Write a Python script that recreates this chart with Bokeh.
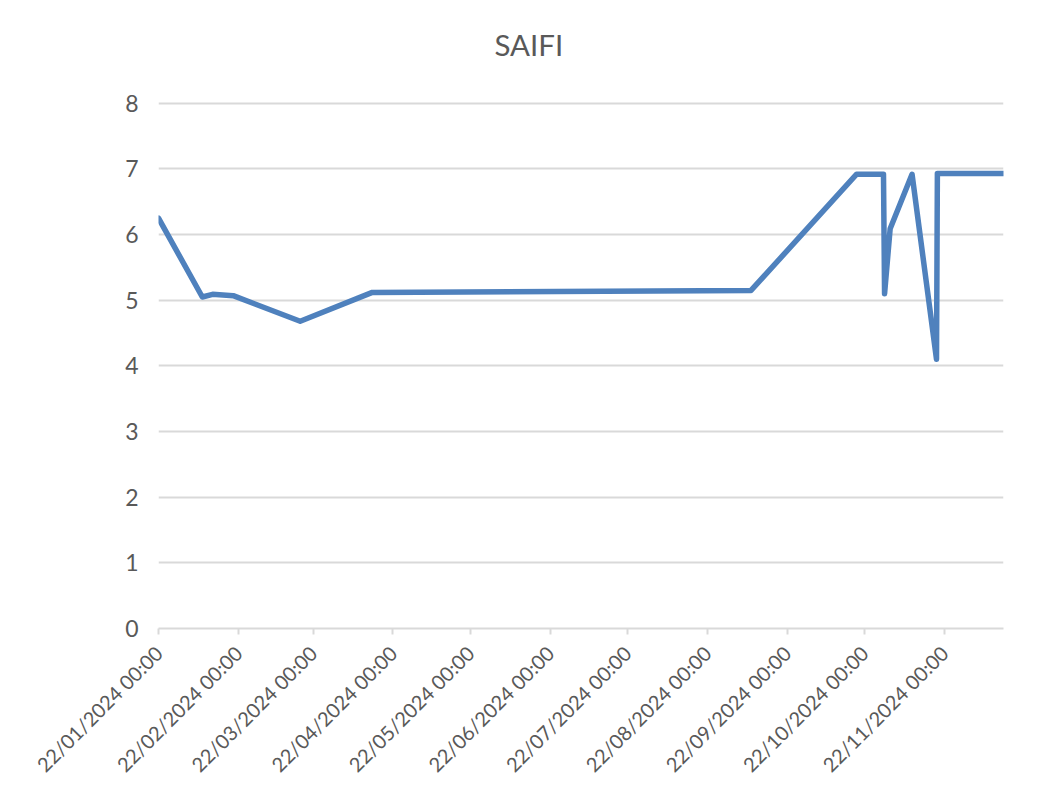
import pandas as pd
from bokeh.plotting import figure
from bokeh.models import (Range1d, FixedTicker, DatetimeTickFormatter, Title)
from bokeh.embed import file_html
from bokeh.resources import INLINE
import math

# ---- data ----
dates = ["2024-01-22 00:00", "2024-02-08 00:00", "2024-02-12 00:00", "2024-02-20 00:00",
         "2024-03-17 00:00", "2024-04-14 00:00", "2024-09-08 00:00", "2024-10-19 00:00",
         "2024-10-29 10:00", "2024-10-29 20:00", "2024-11-01 00:00", "2024-11-09 12:00",
         "2024-11-19 00:00", "2024-11-19 08:00", "2024-12-15 00:00"]
saifi = [6.25, 5.05, 5.09, 5.07, 4.68, 5.12, 5.15, 6.92, 6.92, 5.10, 6.09, 6.92, 4.10, 6.93, 6.93]
tick_dates = ["2024-01-22", "2024-02-22", "2024-03-22", "2024-04-22", "2024-05-22", "2024-06-22",
              "2024-07-22", "2024-08-22", "2024-09-22", "2024-10-22", "2024-11-22"]
y_ticks = [0, 1, 2, 3, 4, 5, 6, 7, 8]
title_text = "SAIFI"

FONT = "Lato"
GREY = "#595959"
GRID = "#d9d9d9"

# layout: the frame reaches a little above the top gridline (no outline is drawn)
W, H = 1028, 787
Y_TOP_PAD = 0.5                      # extra value-space above the top tick
px_per_unit = (628 - 103) / (y_ticks[-1] - y_ticks[0])
frame_top = round(628 - (y_ticks[-1] + Y_TOP_PAD - y_ticks[0]) * px_per_unit)
BL, BR, BT, BB = 158, W - 1003, frame_top, H - 628

x = pd.to_datetime(dates)
ticks_ms = [pd.Timestamp(d).value / 1e6 for d in tick_dates]

p = figure(width=W, height=H, x_axis_type="datetime",
           x_range=Range1d(x[0], x[-1]), y_range=Range1d(y_ticks[0], y_ticks[-1] + Y_TOP_PAD),
           output_backend="svg", toolbar_location=None,
           min_border_left=BL, min_border_right=BR, min_border_top=BT, min_border_bottom=BB)
p.outline_line_color = None

p.line(x, saifi, line_color="#4f81bd", line_width=5.5, line_join="round", line_cap="round")

# y axis
p.yaxis.ticker = FixedTicker(ticks=y_ticks)
p.yaxis.axis_line_color = None
p.yaxis.major_tick_line_color = None
p.yaxis.minor_tick_line_color = None
p.yaxis.major_tick_out = 0
p.yaxis.major_tick_in = 0
p.yaxis.major_label_standoff = 20
p.yaxis.major_label_text_font = FONT
p.yaxis.major_label_text_font_size = "23px"
p.yaxis.major_label_text_color = GREY

# x axis
fmt = "%d/%m/%Y %H:%M"
xa = p.xaxis[0]
xa.ticker = FixedTicker(ticks=ticks_ms)
xa.formatter = DatetimeTickFormatter(milliseconds=fmt, seconds=fmt, minsec=fmt, minutes=fmt,
                                     hourmin=fmt, hours=fmt, days=fmt, months=fmt, years=fmt)
xa.axis_line_color = GRID
xa.axis_line_width = 2
xa.major_tick_line_color = GRID
xa.major_tick_line_width = 2
xa.major_tick_out = 6
xa.major_tick_in = 0
xa.minor_tick_line_color = None
xa.major_label_orientation = math.pi / 4
xa.major_label_standoff = 15
xa.major_label_text_font = FONT
xa.major_label_text_font_size = "20px"
xa.major_label_text_color = GREY

# grid
p.xgrid.grid_line_color = None
p.ygrid.ticker = FixedTicker(ticks=y_ticks)
p.ygrid.grid_line_color = GRID
p.ygrid.grid_line_width = 2

# title
p.title = Title(text=title_text, align="left", offset=494 - 158, standoff=18,
                text_font=FONT, text_font_size="29.5px", text_font_style="normal", text_color=GREY)

open("out.html", "w").write(file_html(p, INLINE))
